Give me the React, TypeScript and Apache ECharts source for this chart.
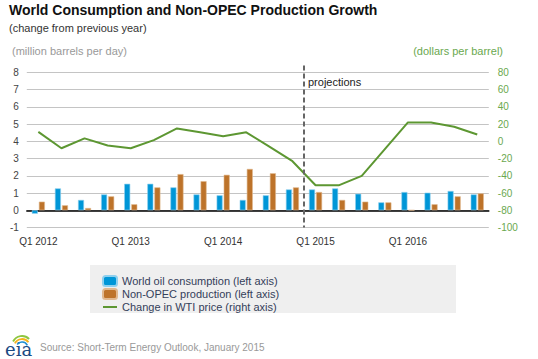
import React, { useEffect, useRef } from "react";
import * as echarts from "echarts";

const categories = [
  "Q1 2012", "Q2 2012", "Q3 2012", "Q4 2012",
  "Q1 2013", "Q2 2013", "Q3 2013", "Q4 2013",
  "Q1 2014", "Q2 2014", "Q3 2014", "Q4 2014",
  "Q1 2015", "Q2 2015", "Q3 2015", "Q4 2015",
  "Q1 2016", "Q2 2016", "Q3 2016", "Q4 2016",
];
const consumption = [-0.2, 1.27, 0.6, 0.92, 1.54, 1.54, 1.33, 0.92, 0.87, 0.6, 0.87, 1.21, 1.21, 1.27, 0.96, 0.46, 1.06, 1.02, 1.12, 0.92];
const nonOpec = [0.5, 0.29, 0.13, 0.81, 0.35, 1.33, 2.1, 1.69, 2.06, 2.4, 2.15, 1.33, 1.06, 0.6, 0.5, 0.46, 0, 0.35, 0.81, 0.98];
const wti = [11, -8, 3.5, -4.7, -8, 1.5, 15, 10.5, 6, 10.5, -6, -23, -51, -51, -40, -9, 22, 22, 17, 8];

const seriesNames = [
  "World oil consumption (left axis)",
  "Non-OPEC production (left axis)",
  "Change in WTI price (right axis)",
];

const FONT = "Liberation Sans, Arial, sans-serif";
const BLUE = "#0096d7";
const ORANGE = "#bd732a";
const GREEN = "#5d9732";

export default function App() {
  const ref = useRef<HTMLDivElement>(null);
  useEffect(() => {
    if (!ref.current) return;
    const chart = echarts.init(ref.current, undefined, { renderer: "svg" });
    const baseGraphics: any[] = [
      { type: "text", x: 9, y: 10, style: { text: "World Consumption and Non-OPEC Production Growth", font: `bold 14px ${FONT}`, fill: "#111", verticalAlign: "middle" } },
      { type: "text", x: 9, y: 28, style: { text: "(change from previous year)", font: `11px ${FONT}`, fill: "#333", verticalAlign: "middle" } },
      { type: "text", x: 12, y: 51, style: { text: "(million barrels per day)", font: `11px ${FONT}`, fill: "#999", verticalAlign: "middle" } },
      { type: "text", x: 503, y: 51, style: { text: "(dollars per barrel)", font: `11px ${FONT}`, fill: "#6aa84f", align: "right", verticalAlign: "middle" } },
      { type: "rect", shape: { x: 90, y: 265, width: 366, height: 48 }, style: { fill: "#efefef" }, z: -10 },
      { type: "text", x: 40, y: 347, style: { text: "Source: Short-Term Energy Outlook, January 2015", font: `10px ${FONT}`, fill: "#999", verticalAlign: "middle" } },
      { type: "text", x: 5, y: 349, style: { text: "eia", font: `18px DejaVu Serif, serif`, fill: "#1b4a82", verticalAlign: "middle" } },
      { type: "arc", shape: { cx: 22, cy: 346, r: 10, startAngle: -Math.PI * 0.85, endAngle: -Math.PI * 0.25 }, style: { stroke: "#8dc63f", lineWidth: 2, fill: "none" } },
      { type: "arc", shape: { cx: 22, cy: 347, r: 8, startAngle: -Math.PI * 0.85, endAngle: -Math.PI * 0.2 }, style: { stroke: "#f5b31a", lineWidth: 1.8, fill: "none" } },
      { type: "arc", shape: { cx: 22, cy: 348, r: 6, startAngle: -Math.PI * 0.8, endAngle: -Math.PI * 0.15 }, style: { stroke: "#1f8fd1", lineWidth: 1.6, fill: "none" } },
      { type: "text", x: 308, y: 82, style: { text: "projections", font: `11px ${FONT}`, fill: "#222", verticalAlign: "middle" } },
    ];
    chart.setOption({
      animation: false,
      textStyle: { fontFamily: FONT },
      grid: { left: 26.8, right: 49.2, top: 72.5, bottom: 131.5, containLabel: false },
      legend: {
        orient: "vertical",
        left: 97,
        top: 270,
        itemWidth: 14,
        itemHeight: 10,
        itemGap: 1,
        textStyle: { fontSize: 11, color: "#34405a", lineHeight: 12 },
        data: [
          { name: seriesNames[0], icon: "roundRect" },
          { name: seriesNames[1], icon: "roundRect" },
          { name: seriesNames[2], icon: "path://M0,0 L14,0 L14,2 L0,2 Z" },
        ],
      },
      xAxis: {
        type: "category",
        data: categories,
        boundaryGap: true,
        axisLine: { lineStyle: { color: "#000", width: 1.5 } },
        axisTick: { alignWithLabel: true, interval: 3, length: 5, lineStyle: { color: "#000" } },
        axisLabel: { interval: 3, color: "#333", fontSize: 10, margin: 9 },
        splitLine: { show: false },
      },
      yAxis: [
        {
          type: "value",
          min: -1,
          max: 8,
          interval: 1,
          axisLine: { show: false },
          axisTick: { show: false },
          axisLabel: { color: "#444", fontSize: 10, margin: 8 },
          splitLine: { lineStyle: { color: "#c4c4c4", width: 1 } },
        },
        {
          type: "value",
          min: -100,
          max: 80,
          interval: 20,
          axisLine: { show: false },
          axisTick: { show: false },
          axisLabel: { color: "#6aa84f", fontSize: 10, margin: 9 },
          splitLine: { show: false },
        },
      ],
      series: [
        {
          name: seriesNames[0],
          type: "bar",
          data: consumption,
          barWidth: 6,
          barGap: "18%",
          itemStyle: { color: BLUE, borderColor: "#8fd0ee", borderWidth: 0.6 },
        },
        {
          name: seriesNames[1],
          type: "bar",
          data: nonOpec,
          barWidth: 6,
          itemStyle: { color: ORANGE, borderColor: "#e0b88f", borderWidth: 0.6 },
        },
        {
          name: seriesNames[2],
          type: "line",
          yAxisIndex: 1,
          data: wti,
          symbol: "none",
          showSymbol: false,
          lineStyle: { color: GREEN, width: 2 },
          itemStyle: { color: GREEN },
          z: 5,
        },
      ],
      graphic: baseGraphics,
    });
    const x1 = chart.convertToPixel({ xAxisIndex: 0 }, 11) as number;
    const x2 = chart.convertToPixel({ xAxisIndex: 0 }, 12) as number;
    const xm = (x1 + x2) / 2;
    const yb = chart.convertToPixel({ yAxisIndex: 0 }, -1) as number;
    const yt = chart.convertToPixel({ yAxisIndex: 0 }, 8.4) as number;
    chart.setOption({
      graphic: [
        ...baseGraphics,
        { type: "line", shape: { x1: xm, y1: yt, x2: xm, y2: yb }, style: { stroke: "#666", lineWidth: 2, lineDash: [5, 3] }, z: 10 },
      ],
    });
    return () => chart.dispose();
  }, []);
  return <div ref={ref} style={{ position: "fixed", left: 0, top: 0, width: 538, height: 359, background: "#fff" }} />;
}
